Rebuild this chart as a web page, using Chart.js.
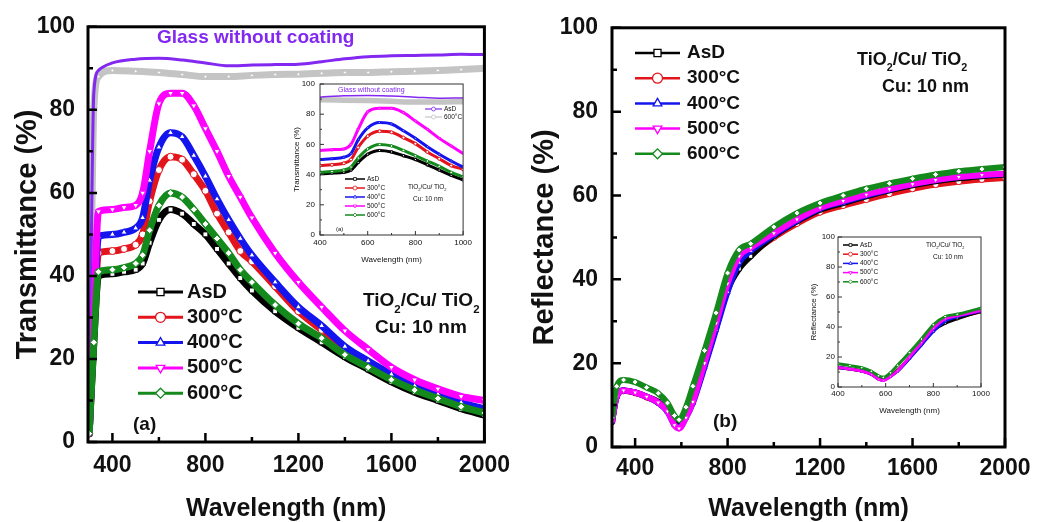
<!DOCTYPE html>
<html>
<head>
<meta charset="utf-8">
<script src="https://cdn.jsdelivr.net/npm/chart.js@4.4.1/dist/chart.umd.min.js"></script>
<style>
html, body { margin: 0; padding: 0; background: #fff; }
#wrap { position: relative; width: 1051px; height: 522px; overflow: hidden; background: #fff; }
#wrap canvas { position: absolute; }
</style>
</head>
<body>
<div id="wrap">
  <canvas id="transMain" width="520" height="522" style="left:0px;top:0px"></canvas>
  <canvas id="reflMain" width="531" height="522" style="left:520px;top:0px"></canvas>
  <canvas id="transInset" width="205" height="200" style="left:270px;top:74px"></canvas>
  <canvas id="reflInset" width="205" height="200" style="left:790px;top:227px"></canvas>
</div>
<script>
// values
const seriesNames = ["AsD", "300°C", "400°C", "500°C", "600°C"];
const glassNames = ["AsD", "600°C"];

// (a) transmittance
const transWavelength = [300, 320, 340, 400, 450, 500, 530, 560, 600, 650, 700, 750, 800, 850, 900, 950, 1000, 1100, 1200, 1300, 1400, 1500, 1600, 1700, 1800, 1900, 2000];
const transAsD = [2, 24, 40, 40.5, 41, 41.5, 43, 48, 53.5, 56, 55, 52.5, 50, 46.5, 43, 39.5, 36.5, 31.5, 27.5, 24, 20.5, 17.5, 14.5, 12, 10, 8, 6.5];
const trans300 = [2, 26, 45.5, 46, 46.5, 47.5, 50, 58, 65.5, 68.7, 68, 64.5, 60.5, 55, 50.5, 46, 43.5, 37.5, 31.5, 27, 22.5, 19, 16, 13, 11, 9, 7.5];
const trans400 = [2, 28, 49.5, 50, 50.5, 51.5, 54, 63, 71, 74.5, 73.5, 69, 64, 58.5, 53.5, 49, 45, 38.5, 32.5, 28, 23, 19.5, 16.3, 13.5, 11.5, 9.5, 8];
const trans500 = [2, 30, 55.5, 56, 56.5, 57, 60, 70, 81.5, 84, 84, 81, 75.5, 70, 64, 59, 54, 45.5, 38.5, 32.5, 26.8, 22.3, 18, 15, 12.8, 11, 10];
const trans600 = [2, 24, 41, 41.5, 42, 43, 45, 51, 57, 60, 59, 56, 52.5, 49, 45.5, 41.5, 38.5, 33, 28.5, 25, 21, 18, 15, 12.5, 10.5, 8.5, 7];

const glassWavelength = [300, 320, 340, 400, 500, 600, 700, 800, 900, 1000, 1100, 1200, 1300, 1400, 1500, 1600, 1700, 1800, 1900, 2000];
const glassAsD = [3, 84, 89.5, 91.3, 92.2, 92.4, 92, 91.3, 90.6, 90.8, 90.9, 91, 91.6, 92.3, 92.8, 93, 93.1, 93.2, 93.4, 93.3];
const glass600 = [3, 80, 88, 89.5, 89.3, 89, 88.5, 88, 88, 88.3, 88.5, 88.6, 88.8, 89, 89, 89.2, 89.3, 89.5, 89.7, 90];

// (b) reflectance
const reflWavelength = [300, 320, 350, 400, 450, 500, 540, 570, 590, 620, 650, 700, 750, 800, 850, 900, 1000, 1100, 1200, 1300, 1400, 1500, 1600, 1700, 1800, 1900, 2000];
const reflAsD = [6, 12, 13.5, 13, 12, 10.8, 8.8, 5.8, 5, 7.5, 11, 19.5, 28.5, 37.5, 42.5, 45.5, 50.3, 53.8, 56.6, 58.2, 59.8, 61.2, 62.4, 63.4, 64.1, 64.6, 65];
const refl300 = [6, 12, 13.4, 12.9, 11.9, 10.6, 8.6, 5.6, 5, 7.5, 11, 19.5, 28.5, 37.5, 43.5, 46, 50, 53.3, 56, 57.6, 59, 60.4, 61.6, 62.6, 63.3, 63.8, 64.2];
const refl400 = [6, 12, 13.5, 13, 12, 10.5, 8.4, 5.3, 4.6, 7, 10.5, 19, 28, 37, 44, 46.8, 50.6, 54, 56.9, 58.5, 60, 61.4, 62.7, 63.7, 64.4, 64.8, 65.1];
const refl500 = [6, 12, 13.5, 13, 12, 10.6, 8.5, 5.2, 4.4, 7, 10.8, 20, 29.5, 39, 45.5, 47.5, 51, 54.3, 57.1, 58.7, 60.2, 61.5, 62.7, 63.7, 64.4, 64.9, 65.2];
const refl600 = [7, 14.5, 16, 15.5, 14.2, 12.8, 10.5, 7.5, 6.5, 9.5, 14.5, 23, 32, 41.5, 47, 48.5, 52.5, 55.8, 58.2, 60, 61.6, 62.9, 64, 65, 65.8, 66.3, 66.8];

const mainXTicks = [400, 800, 1200, 1600, 2000];
const mainXMinor = [600, 1000, 1400, 1800];
const insetXTicks = [400, 600, 800, 1000];
const insetXMinor = [500, 700, 900];
const yTicks = [0, 20, 40, 60, 80, 100];
const yMinor = [10, 30, 50, 70, 90];

const palette = ["#000000", "#e3141b", "#1414ee", "#ff00ff", "#138a1b"];
const shapes = ["rect", "circle", "triangle", "triangle", "rectRot"];
const turns = [0, 0, 0, 180, 0];
const drawOrder = [4, 5, 3, 2, 1];
const glassColors = ["#8228f0", "#c4c4c4"];
const FONT = '"Liberation Sans", Arial, sans-serif';

function pts(xs, ys) {
    return xs.map((x, i) => ({ x: x, y: ys[i] }));
}

function coatedSets(xs, list, width, radius) {
    return list.map((ys, i) => ({
        label: seriesNames[i],
        data: pts(xs, ys),
        borderColor: palette[i],
        borderWidth: width,
        pointStyle: shapes[i],
        rotation: turns[i],
        pointRadius: radius,
        pointBorderWidth: 1,
        pointBorderColor: palette[i],
        pointBackgroundColor: "#ffffff",
        cubicInterpolationMode: "monotone",
        order: drawOrder[i],
    }));
}

function glassSets(width, radius) {
    return [
        {
            label: glassNames[1], data: pts(glassWavelength, glass600),
            borderColor: glassColors[1], borderWidth: width + 4,
            pointRadius: radius, pointBorderWidth: 1, pointBorderColor: glassColors[1],
            pointBackgroundColor: "#ffffff", cubicInterpolationMode: "monotone", order: 11,
        },
        {
            label: glassNames[0], data: pts(glassWavelength, glassAsD),
            borderColor: glassColors[0], borderWidth: width,
            pointRadius: 0, cubicInterpolationMode: "monotone", order: 10,
        },
    ];
}

function axes(o) {
    return {
        x: {
            type: "linear", min: o.xMin, max: o.xMax,
            afterBuildTicks: (s) => { s.ticks = o.xTicks.map((v) => ({ value: v })); },
            afterFit: (s) => { s.height = o.xh; },
            grid: { display: false, drawTicks: false }, border: { display: false },
            ticks: { color: "#111", font: { family: FONT, size: o.tick, weight: o.weight }, padding: o.xpad,
                maxRotation: 0, autoSkip: false, callback: (v) => String(v) },
            title: { display: true, text: "Wavelength (nm)", color: "#111",
                font: { family: FONT, size: o.title, weight: o.weight, lineHeight: o.lh },
                padding: { top: 0, bottom: o.xtp } },
        },
        y: {
            type: "linear", min: 0, max: 100,
            afterBuildTicks: (s) => { s.ticks = yTicks.map((v) => ({ value: v })); },
            afterFit: (s) => { s.width = o.yw; },
            grid: { display: false, drawTicks: false }, border: { display: false },
            ticks: { color: "#111", font: { family: FONT, size: o.tick, weight: o.weight }, padding: o.ypad,
                callback: (v) => String(v) },
            title: { display: true, text: o.ytitle, color: "#111",
                font: { family: FONT, size: o.ytitleSize || o.title, weight: o.weight, lineHeight: o.lh },
                padding: { top: o.ytp, bottom: 0 } },
        },
    };
}

// frame, inward ticks, legend and notes
function decor(cfg) {
    return {
        id: "decor",
        afterDraw(chart) {
            const { ctx, chartArea: a, scales: { x, y } } = chart;
            ctx.save();
            ctx.strokeStyle = cfg.frameColor;
            ctx.lineWidth = cfg.tickWidth;
            ctx.beginPath();
            cfg.xMajor.forEach((v) => { const p = x.getPixelForValue(v); ctx.moveTo(p, a.bottom); ctx.lineTo(p, a.bottom - cfg.major); });
            cfg.xMinor.forEach((v) => { const p = x.getPixelForValue(v); ctx.moveTo(p, a.bottom); ctx.lineTo(p, a.bottom - cfg.minor); });
            yTicks.forEach((v) => { const p = y.getPixelForValue(v); ctx.moveTo(a.left, p); ctx.lineTo(a.left + cfg.major, p); });
            yMinor.forEach((v) => { const p = y.getPixelForValue(v); ctx.moveTo(a.left, p); ctx.lineTo(a.left + cfg.minor, p); });
            ctx.stroke();
            ctx.lineWidth = cfg.frameWidth;
            ctx.strokeRect(a.left, a.top, a.width, a.height);

            (cfg.legends || []).forEach((lg) => {
                lg.items.forEach((it, i) => {
                    const yy = lg.y0 + i * lg.step;
                    ctx.strokeStyle = it.color;
                    ctx.lineWidth = lg.lw;
                    ctx.beginPath();
                    ctx.moveTo(lg.x0, yy);
                    ctx.lineTo(lg.x1, yy);
                    ctx.stroke();
                    ctx.fillStyle = "#ffffff";
                    ctx.lineWidth = lg.pw;
                    Chart.helpers.drawPoint(ctx, { pointStyle: it.shape, rotation: it.rot, radius: lg.r, borderWidth: lg.pw },
                        (lg.x0 + lg.x1) / 2, yy);
                    ctx.fillStyle = lg.textColor || "#111";
                    ctx.font = `${lg.weight} ${lg.size}px ${FONT}`;
                    ctx.textAlign = "left";
                    ctx.textBaseline = "middle";
                    ctx.fillText(it.label, lg.tx, yy);
                });
            });

            (cfg.notes || []).forEach((n) => {
                ctx.fillStyle = n.color || "#111";
                ctx.textAlign = "left";
                ctx.textBaseline = "middle";
                let cx = n.x;
                n.parts.forEach((p) => {
                    const sub = p.startsWith("_");
                    const t = sub ? p.slice(1) : p;
                    const fs = sub ? n.size * 0.6 : n.size;
                    ctx.font = `${n.weight} ${fs}px ${FONT}`;
                    ctx.fillText(t, cx, sub ? n.y + n.size * 0.45 : n.y);
                    cx += ctx.measureText(t).width;
                });
            });
            ctx.restore();
        },
    };
}

function legendItems() {
    return seriesNames.map((s, i) => ({ label: s, color: palette[i], shape: shapes[i], rot: turns[i] }));
}

const tio2 = ["TiO", "_2", "/Cu/ TiO", "_2"];

// (a) main
new Chart(document.getElementById("transMain"), {
    type: "line",
    data: {
        datasets: [
            ...glassSets(3, 1.5),
            ...coatedSets(transWavelength, [transAsD, trans300, trans400, trans500, trans600], 7, 3.5),
        ],
    },
    options: {
        responsive: false, animation: false, devicePixelRatio: 1,
        layout: { padding: { top: 22, right: 32, left: 0, bottom: 0 } },
        plugins: { legend: { display: false }, tooltip: { enabled: false } },
        scales: axes({ xMin: 295, xMax: 2000, xTicks: mainXTicks, xh: 80, yw: 88, tick: 23, title: 25, ytitleSize: 29,
            weight: "bold", lh: 1, xpad: 10, ypad: 13, xtp: 0, ytp: 13, ytitle: "Transmittance (%)" }),
    },
    plugins: [decor({
        frameColor: "#000", frameWidth: 3, tickWidth: 2.5, major: 9, minor: 5,
        xMajor: mainXTicks, xMinor: mainXMinor,
        legends: [{ items: legendItems(), x0: 138, x1: 183, tx: 187, y0: 292, step: 25.3, lw: 3, r: 5, pw: 1.3, size: 20, weight: "bold" }],
        notes: [
            { parts: ["Glass without coating"], x: 157, y: 38, size: 19, weight: "bold", color: glassColors[0] },
            { parts: tio2, x: 363, y: 301, size: 19, weight: "bold" },
            { parts: ["Cu: 10 nm"], x: 375, y: 328, size: 19, weight: "bold" },
            { parts: ["(a)"], x: 133, y: 425, size: 19, weight: "bold" },
        ],
    })],
});

// (a) inset
new Chart(document.getElementById("transInset"), {
    type: "line",
    data: {
        datasets: [
            ...glassSets(1.5, 0),
            ...coatedSets(transWavelength, [transAsD, trans300, trans400, trans500, trans600], 3, 1.5),
        ],
    },
    options: {
        responsive: false, animation: false, devicePixelRatio: 1,
        layout: { padding: { top: 10, right: 11, left: 0, bottom: 0 } },
        plugins: { legend: { display: false }, tooltip: { enabled: false } },
        scales: axes({ xMin: 400, xMax: 1000, xTicks: insetXTicks, xh: 39, yw: 50, tick: 8, title: 8,
            weight: "normal", lh: 1.2, xpad: 3, ypad: 5, xtp: 9, ytp: 22, ytitle: "Transmittance (%)" }),
    },
    plugins: [decor({
        frameColor: "#333", frameWidth: 1, tickWidth: 1, major: 4, minor: 2,
        xMajor: insetXTicks, xMinor: insetXMinor,
        legends: [
            { items: legendItems(), x0: 75, x1: 95, tx: 97, y0: 105, step: 9, lw: 1.5, r: 2, pw: 0.8, size: 6.5, weight: "normal" },
            { items: glassNames.map((s, i) => ({ label: s, color: glassColors[i], shape: "circle", rot: 0 })),
                x0: 155, x1: 172, tx: 174, y0: 35, step: 8, lw: 1.2, r: 2, pw: 0.8, size: 6.5, weight: "normal" },
        ],
        notes: [
            { parts: ["Glass without coating"], x: 68, y: 16, size: 7, weight: "normal", color: glassColors[0] },
            { parts: tio2, x: 138, y: 113, size: 6.5, weight: "normal" },
            { parts: ["Cu: 10 nm"], x: 143, y: 125, size: 6.5, weight: "normal" },
            { parts: ["(a)"], x: 66, y: 155, size: 6, weight: "normal" },
        ],
    })],
});

// (b) main
new Chart(document.getElementById("reflMain"), {
    type: "line",
    data: {
        datasets: coatedSets(reflWavelength, [reflAsD, refl300, refl400, refl500, refl600], 6, 3),
    },
    options: {
        responsive: false, animation: false, devicePixelRatio: 1,
        layout: { padding: { top: 25, right: 46, left: 0, bottom: 0 } },
        plugins: { legend: { display: false }, tooltip: { enabled: false } },
        scales: axes({ xMin: 300, xMax: 2000, xTicks: mainXTicks, xh: 75, yw: 92, tick: 23, title: 25, ytitleSize: 29,
            weight: "bold", lh: 1, xpad: 8, ypad: 14, xtp: 0, ytp: 10, ytitle: "Reflectance (%)" }),
    },
    plugins: [decor({
        frameColor: "#000", frameWidth: 3, tickWidth: 2.5, major: 9, minor: 5,
        xMajor: mainXTicks, xMinor: mainXMinor,
        legends: [{ items: legendItems(), x0: 115, x1: 160, tx: 167, y0: 53, step: 25.2, lw: 2.5, r: 5, pw: 1.3, size: 19, weight: "bold" }],
        notes: [
            { parts: tio2, x: 337, y: 60, size: 18, weight: "bold" },
            { parts: ["Cu: 10 nm"], x: 362, y: 87, size: 18, weight: "bold" },
            { parts: ["(b)"], x: 193, y: 422, size: 19, weight: "bold" },
        ],
    })],
});

// (b) inset
new Chart(document.getElementById("reflInset"), {
    type: "line",
    data: {
        datasets: coatedSets(reflWavelength, [reflAsD, refl300, refl400, refl500, refl600], 3, 1.5),
    },
    options: {
        responsive: false, animation: false, devicePixelRatio: 1,
        layout: { padding: { top: 10, right: 14, left: 0, bottom: 0 } },
        plugins: { legend: { display: false }, tooltip: { enabled: false } },
        scales: axes({ xMin: 400, xMax: 1000, xTicks: insetXTicks, xh: 40, yw: 48, tick: 8, title: 8,
            weight: "normal", lh: 1.2, xpad: 2, ypad: 3, xtp: 11, ytp: 19, ytitle: "Reflectance (%)" }),
    },
    plugins: [decor({
        frameColor: "#333", frameWidth: 1, tickWidth: 1, major: 4, minor: 2,
        xMajor: insetXTicks, xMinor: insetXMinor,
        legends: [{ items: legendItems(), x0: 53, x1: 68, tx: 70, y0: 18, step: 9.2, lw: 1.5, r: 2, pw: 0.8, size: 6.5, weight: "normal" }],
        notes: [
            { parts: tio2, x: 136, y: 18, size: 6.5, weight: "normal" },
            { parts: ["Cu: 10 nm"], x: 143, y: 30, size: 6.5, weight: "normal" },
        ],
    })],
});
</script>
</body>
</html>
